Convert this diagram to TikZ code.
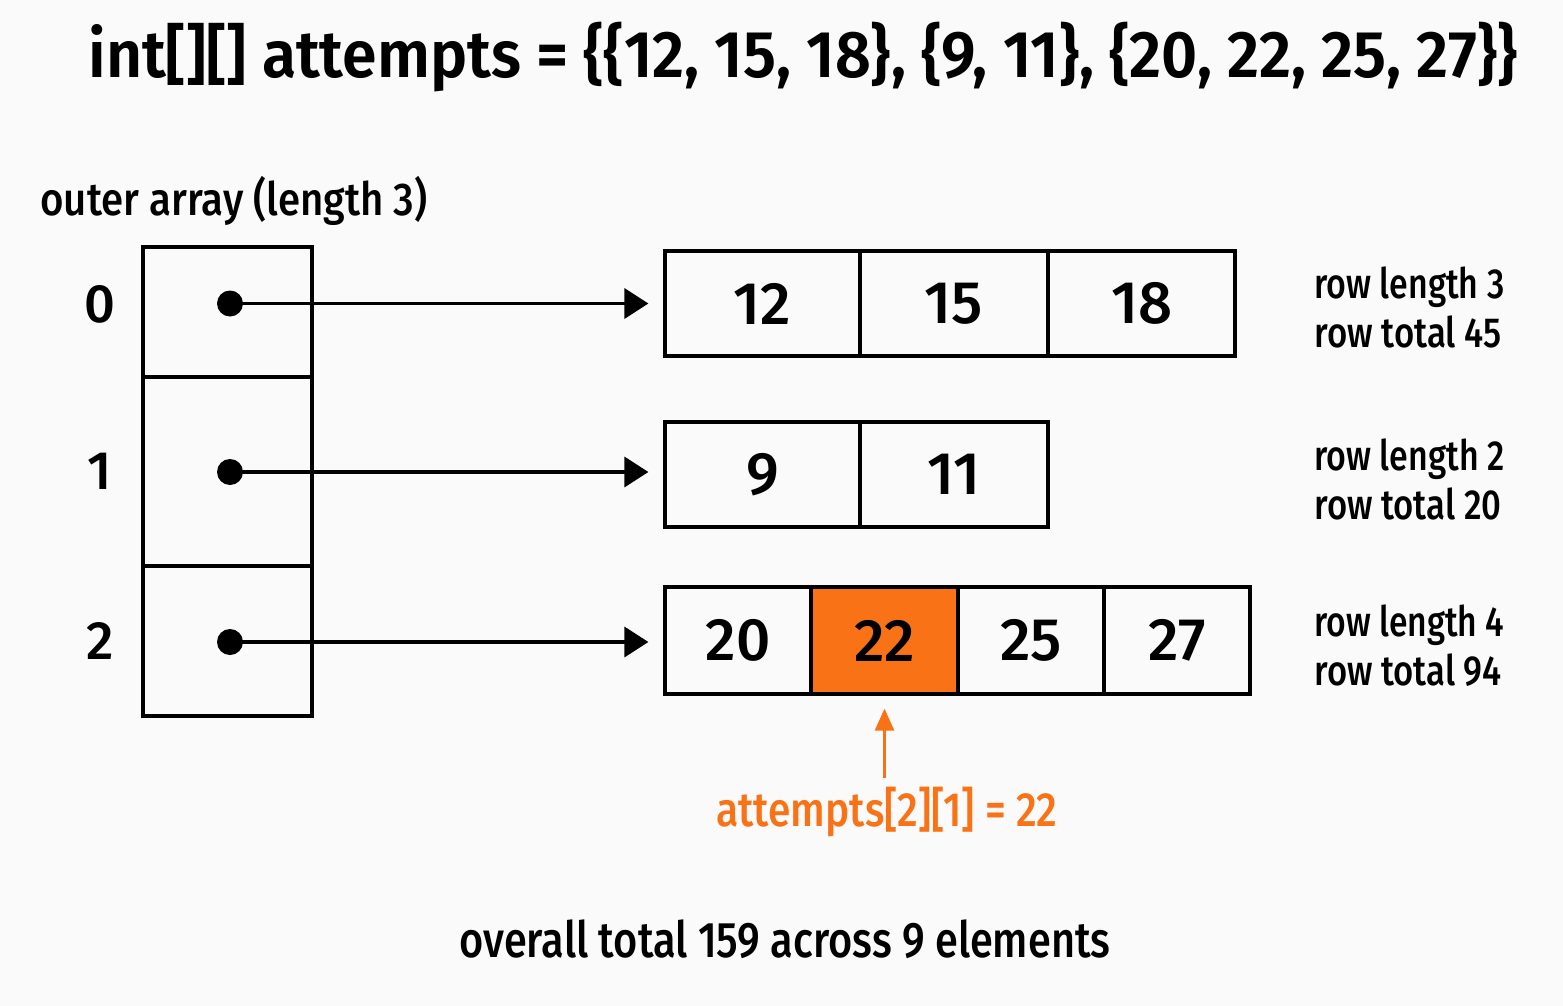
\documentclass[tikz,border=0pt]{standalone}
\usepackage{fontspec}
\setmainfont{Fira Sans}[UprightFont={* Medium}, BoldFont={* SemiBold}, Numbers={Lining,Proportional}]
\usetikzlibrary{arrows.meta}
\definecolor{hiorange}{RGB}{249,115,22}
\definecolor{bgcol}{RGB}{250,250,250}
\newcommand\fitw[2]{\resizebox{#1}{\height}{#2}}
\tikzset{
  cell/.style={draw=black, line width=1.6pt, inner sep=0pt, font=\fontsize{30}{36}\selectfont},
  ocell/.style={draw=black, line width=1.6pt, inner sep=0pt, minimum width=84.5pt},
  dotnode/.style={circle, fill=black, inner sep=0pt, minimum size=13pt},
  ptr/.style={line width=1.7pt, -{Triangle[length=12pt,width=15pt]}, shorten >=7.5pt},
  optr/.style={hiorange, line width=1.3pt, -{Triangle[length=11pt,width=9.5pt]}, shorten >=6.5pt},
  txt/.style={inner sep=0pt, anchor=base west},
  idx/.style={inner sep=0pt, font=\fontsize{27}{32}\selectfont},
}
\begin{document}
\begin{tikzpicture}[x=0.5pt,y=-0.5pt]
\fill[bgcol] (0,0) rectangle (1563,1006);
\useasboundingbox (0,0) rectangle (1563,1006);

% title
\node[txt] (title) at (88,77) {\fitw{714.5pt}{\bfseries\fontsize{33}{40}\selectfont int[][] attempts = \{\{12, 15, 18\}, \{9, 11\}, \{20, 22, 25, 27\}\}}};

% outer array label
\node[txt] (outerlbl) at (40,215) {\fitw{193.5pt}{\fontsize{23}{28}\selectfont outer array (length 3)}};

% outer array cells
\node[ocell, minimum height=65pt] (o0) at (227.5,312) {};
\node[ocell, minimum height=94.5pt] (o1) at (227.5,471.5) {};
\node[ocell, minimum height=75pt] (o2) at (227.5,641) {};

% indices
\node[idx] (i0) at (100,304) {0};
\node[idx] (i1) at (100,471) {1};
\node[idx] (i2) at (100,641) {2};

% row 0
\node[cell, minimum width=97.5pt, minimum height=52.5pt] (r00) at (762.5,303.5) {12};
\node[cell, minimum width=94pt, minimum height=52.5pt] (r01) at (954,303.5) {15};
\node[cell, minimum width=93.5pt, minimum height=52.5pt] (r02) at (1141.5,303.5) {18};
% row 1
\node[cell, minimum width=97.5pt, minimum height=52.5pt] (r10) at (762.5,474.5) {9};
\node[cell, minimum width=94pt, minimum height=52.5pt] (r11) at (954,474.5) {11};
% row 2
\node[cell, minimum width=73pt, minimum height=53.5pt] (r20) at (738,640.5) {20};
\node[cell, fill=hiorange, minimum width=73.5pt, minimum height=53.5pt] (r21) at (884.5,640.5) {22};
\node[cell, minimum width=73pt, minimum height=53.5pt] (r22) at (1031,640.5) {25};
\node[cell, minimum width=73pt, minimum height=53.5pt] (r23) at (1177,640.5) {27};

% pointer dots
\node[dotnode] (d0) at (230,303.5) {};
\node[dotnode] (d1) at (230,472) {};
\node[dotnode] (d2) at (230,642) {};

% pointers
\draw[ptr] (d0.center) -- (d0.center -| r00.west);
\draw[ptr] (d1.center) -- (d1.center -| r10.west);
\draw[ptr] (d2.center) -- (d2.center -| r20.west);

% row labels
\node[txt] (l0a) at (1314,298) {\fitw{95pt}{\fontsize{21}{25}\selectfont row length 3}};
\node[txt] (l0b) at (1314,347) {\fitw{93.5pt}{\fontsize{21}{25}\selectfont row total 45}};
\node[txt] (l1a) at (1314,470) {\fitw{95pt}{\fontsize{21}{25}\selectfont row length 2}};
\node[txt] (l1b) at (1314,519) {\fitw{93.5pt}{\fontsize{21}{25}\selectfont row total 20}};
\node[txt] (l2a) at (1314,636) {\fitw{95pt}{\fontsize{21}{25}\selectfont row length 4}};
\node[txt] (l2b) at (1314,685) {\fitw{93.5pt}{\fontsize{21}{25}\selectfont row total 94}};

% access label and arrow
\node[txt, text=hiorange] (acc) at (716,826) {\fitw{170.5pt}{\fontsize{24}{29}\selectfont attempts[2][1] = 22}};
\coordinate (accTop) at (884.5,778);
\draw[optr] (accTop) -- (r21.south);

% bottom summary
\node[txt] (summary) at (459,957) {\fitw{325.5pt}{\fontsize{25}{30}\selectfont overall total 159 across 9 elements}};
\end{tikzpicture}
\end{document}
